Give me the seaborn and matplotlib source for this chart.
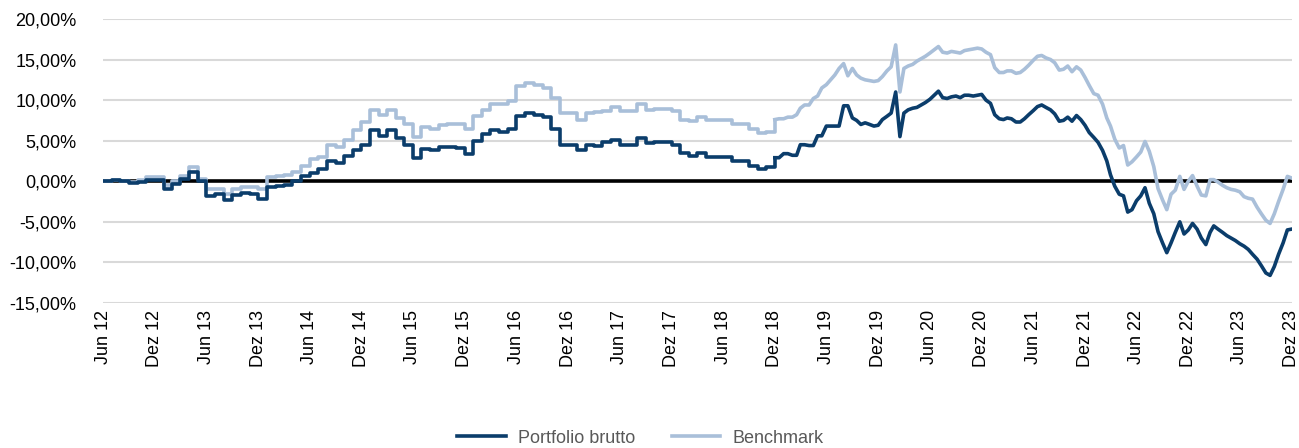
import pandas as pd
import seaborn as sns
import matplotlib.pyplot as plt
from matplotlib.lines import Line2D
from matplotlib.ticker import FuncFormatter

# monthly values Jun 12 .. Nov 18 (in %)
portfolio_monthly = [
    0.0, 0.2, 0.0, -0.2, -0.1, 0.2, 0.2, -1.0, -0.3, 0.3, 1.2, 0.0,
    -1.8, -1.6, -2.3, -1.7, -1.4, -1.6, -2.2, -0.7, -0.6, -0.5, 0.0, 0.6,
    1.0, 1.5, 2.5, 2.3, 3.1, 3.8, 4.5, 6.3, 5.6, 6.3, 5.3, 4.5,
    2.9, 4.0, 3.8, 4.2, 4.2, 4.1, 3.3, 4.9, 5.8, 6.3, 6.1, 6.4,
    8.0, 8.4, 8.2, 7.9, 6.4, 4.5, 4.5, 3.9, 4.5, 4.3, 4.8, 5.1,
    4.5, 4.5, 5.3, 4.7, 4.8, 4.8, 4.5, 3.5, 3.1, 3.5, 3.0, 3.0,
    3.0, 2.5, 2.5, 1.9, 1.5, 1.8,
]
benchmark_monthly = [
    0.0, 0.1, 0.0, -0.1, 0.1, 0.5, 0.5, -0.5, 0.0, 0.7, 1.7, 0.3,
    -1.0, -1.0, -1.6, -1.0, -0.7, -0.7, -1.0, 0.5, 0.7, 0.8, 1.2, 1.9,
    2.7, 3.0, 4.5, 4.2, 5.1, 6.3, 7.3, 8.8, 8.2, 8.8, 7.8, 7.0,
    5.5, 6.7, 6.5, 6.9, 7.1, 7.1, 6.4, 8.0, 8.8, 9.5, 9.5, 9.9,
    11.7, 12.1, 11.8, 11.5, 10.3, 8.4, 8.4, 7.6, 8.4, 8.5, 8.6, 9.1,
    8.6, 8.6, 9.5, 8.8, 8.9, 8.9, 8.6, 7.6, 7.4, 7.9, 7.5, 7.5,
    7.5, 7.1, 7.1, 6.4, 5.9, 6.1,
]

# half-monthly values Dez 18 .. Dez 23 (in %)
portfolio_half = [
    2.9, 2.9, 3.4, 3.4, 3.2, 3.2, 4.5, 4.5, 4.4, 4.4, 5.6, 5.6,
    6.8, 6.8, 6.8, 6.8, 9.3, 9.3, 7.8, 7.5, 7.0, 7.2, 7.0, 6.8,
    6.9, 7.6, 8.0, 8.4, 11.0, 5.5, 8.4, 8.8, 9.0, 9.1, 9.4, 9.7,
    10.1, 10.6, 11.1, 10.3, 10.2, 10.4, 10.5, 10.3, 10.6, 10.6, 10.5, 10.6,
    10.7, 10.0, 9.6, 8.2, 7.7, 7.6, 7.8, 7.7, 7.3, 7.3, 7.7, 8.2,
    8.7, 9.2, 9.4, 9.1, 8.8, 8.3, 7.4, 7.5, 7.9, 7.4, 8.1, 7.6,
    6.9, 6.0, 5.4, 4.8, 3.8, 2.5, 0.8, -0.6, -1.6, -1.8, -3.8, -3.5,
    -2.4, -1.8, -0.8, -2.7, -4.0, -6.2, -7.6, -8.8, -7.6, -6.3, -5.0, -6.5,
    -6.0, -5.2, -5.9, -7.0, -7.8, -6.3, -5.5, -5.9, -6.3, -6.7, -7.0, -7.3,
    -7.7, -8.0, -8.4, -9.0, -9.6, -10.4, -11.3, -11.6, -10.5, -9.0, -7.6, -6.0,
    -5.9,
]
benchmark_half = [
    7.6, 7.7, 7.7, 7.9, 7.9, 8.2, 9.0, 9.4, 9.4, 10.2, 10.5, 11.5,
    11.9, 12.5, 13.1, 13.9, 14.5, 13.0, 13.9, 13.1, 12.7, 12.5, 12.4, 12.3,
    12.4, 12.9, 13.6, 14.1, 16.8, 11.0, 13.9, 14.2, 14.4, 14.8, 15.1, 15.4,
    15.8, 16.2, 16.6, 15.9, 15.8, 16.0, 15.9, 15.8, 16.1, 16.2, 16.3, 16.4,
    16.3, 15.9, 15.6, 14.0, 13.4, 13.4, 13.6, 13.6, 13.3, 13.4, 13.8, 14.3,
    14.9, 15.4, 15.5, 15.2, 15.0, 14.6, 13.7, 13.8, 14.2, 13.5, 14.1, 13.7,
    12.8, 11.8, 10.8, 10.6, 9.5, 7.8, 6.8, 5.2, 4.1, 4.4, 2.0, 2.4,
    3.0, 3.6, 4.9, 3.7, 1.8, -0.9, -2.3, -3.5, -1.6, -1.1, 0.6, -1.0,
    0.0, 0.7, -0.6, -1.7, -1.8, 0.2, 0.2, -0.1, -0.5, -0.8, -1.0, -1.1,
    -1.3, -1.9, -2.1, -2.2, -3.2, -4.0, -4.8, -5.2, -4.0, -2.5, -1.0, 0.6,
    0.4,
]

series_names = ["Portfolio brutto", "Benchmark"]
colors = ["#0b3d6b", "#a9bfd9"]
month_de = {1: "Jan", 2: "Feb", 3: "Mär", 4: "Apr", 5: "Mai", 6: "Jun",
            7: "Jul", 8: "Aug", 9: "Sep", 10: "Okt", 11: "Nov", 12: "Dez"}

dates_monthly = pd.date_range("2012-06-01", periods=len(portfolio_monthly), freq="MS")
half_months = pd.date_range("2018-12-01", "2023-12-01", freq="MS")
dates_half = []
for d in half_months:
    dates_half.append(d)
    if d != half_months[-1]:
        dates_half.append(d + pd.Timedelta(days=15))
dates_half = pd.DatetimeIndex(dates_half)

df_m = pd.DataFrame({"date": dates_monthly.append(dates_half[:1]),
                     series_names[0]: portfolio_monthly + portfolio_half[:1],
                     series_names[1]: benchmark_monthly + benchmark_half[:1]})
df_h = pd.DataFrame({"date": dates_half,
                     series_names[0]: portfolio_half,
                     series_names[1]: benchmark_half})

plt.rcParams["font.family"] = ["Liberation Sans", "DejaVu Sans"]
fig = plt.figure(figsize=(12.99, 4.48), dpi=100)
ax = fig.add_axes([0.0793, 0.3237, 0.9150, 0.634])

# benchmark first so the portfolio line sits on top
for name, c in zip(series_names[::-1], colors[::-1]):
    sns.lineplot(data=df_m, x="date", y=name, ax=ax, color=c, lw=2.6,
                 drawstyle="steps-post", estimator=None)
    sns.lineplot(data=df_h, x="date", y=name, ax=ax, color=c, lw=2.6,
                 estimator=None)

ax.axhline(0, color="black", lw=2.6, zorder=1)

ax.set_ylim(-15, 20)
ax.set_yticks(range(-15, 21, 5))
ax.yaxis.set_major_formatter(FuncFormatter(lambda v, p: f"{v:.2f}".replace(".", ",") + "%"))
ax.set_xlim(dates_monthly[0], half_months[-1])
ticks = pd.date_range("2012-06-01", "2023-12-01", freq="6MS")
ax.set_xticks(ticks)
ax.set_xticklabels([f"{month_de[t.month]} {t.strftime('%y')}" for t in ticks], rotation=90)

ax.grid(axis="y", color="#d9d9d9", lw=1.5, zorder=0)
ax.grid(axis="x", visible=False)
ax.set_axisbelow(True)
for s in ax.spines.values():
    s.set_visible(False)
ax.tick_params(axis="y", length=0, pad=19, labelsize=13)
ax.tick_params(axis="x", length=0, pad=5, labelsize=13)
ax.set_xlabel("")
ax.set_ylabel("")

handles = [Line2D([], [], color=c, lw=2.6) for c in colors]
fig.legend(handles, series_names, loc="center", bbox_to_anchor=(0.493, 0.022),
           ncol=2, frameon=False, fontsize=13, labelcolor="#595959",
           handlelength=2.7, columnspacing=2.0, handletextpad=0.7)

fig.savefig("out.png", dpi=100)
